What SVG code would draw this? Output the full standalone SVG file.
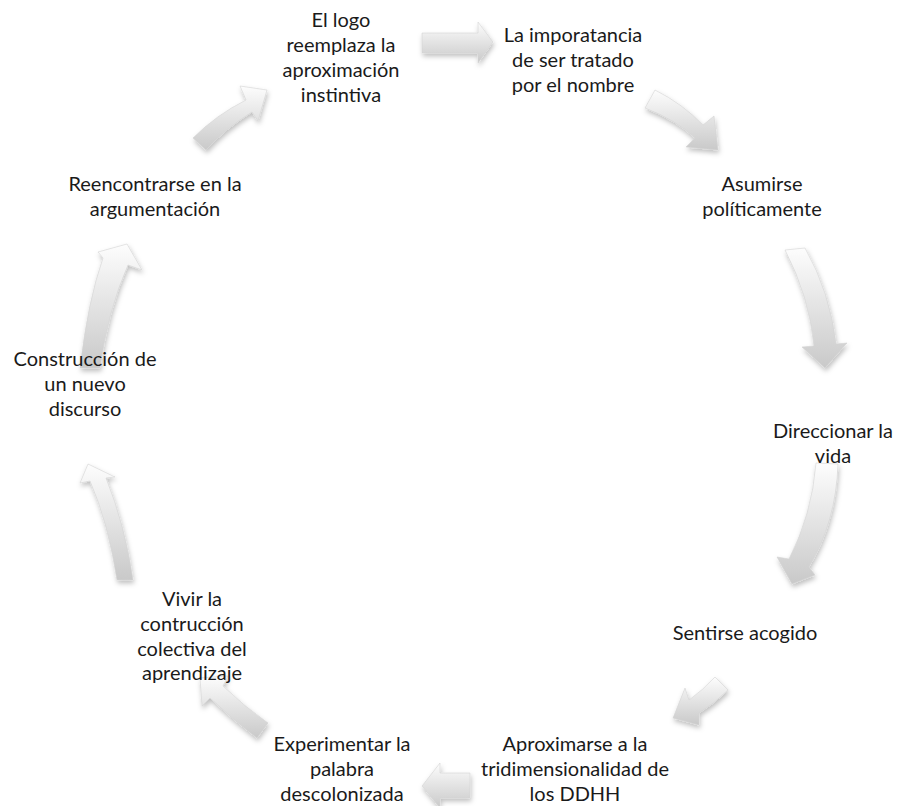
<svg xmlns="http://www.w3.org/2000/svg" width="899" height="806" viewBox="0 0 899 806">
<defs>
<linearGradient id="g" x1="0" y1="0" x2="0" y2="1">
<stop offset="0" stop-color="#fdfdfd"/>
<stop offset="1" stop-color="#c9c9c9"/>
</linearGradient>
<filter id="sh" x="-30%" y="-30%" width="160%" height="160%">
<feDropShadow dx="1" dy="3" stdDeviation="2.5" flood-color="#000" flood-opacity="0.25"/>
</filter>
</defs>
<style>
.a{fill:url(#g);stroke:#d4d4d4;stroke-width:0.6;filter:url(#sh)}
text{font-family:Lato,"Liberation Sans",sans-serif;font-size:20px;fill:#1a1a1a;text-anchor:middle}
</style>
<rect width="899" height="806" fill="#fff"/>
<g id="connectors">
<path class="a" d="M422,33 L478,33 L478,22 L493,42 L478,63 L478,53 L422,53 Z"/>
<path class="a" d="M655,90 Q683,104 703,125 L714,116 L718,150 L686,147 L695,138 Q676,120 645,108 Z"/>
<path class="a" d="M785,250 L805,248 Q830,292 836,344 L847,343 L825,368 L802,347 L814,346 Q809,296 785,250 Z"/>
<path class="a" d="M816,463 L838,464 Q836,522 809,567 L815,575 L792,584 L777,557 L789,559 Q812,514 816,463 Z"/>
<path class="a" d="M715,677 L728,690 Q714,704 699,713 L699,725 L673,718 L685,688 L689,700 Q703,690 715,677 Z"/>
<path class="a" d="M470,773 L440,773 L440,763 L422,786 L440,808 L440,798 L470,798 Z"/>
<path class="a" d="M268,723 Q245,707 223,686 L228,676 L200,678 L202,706 L210,698 Q233,720 257,738 Z"/>
<path class="a" d="M133,580 L117,580 Q108,522 90,481 L80,483 L88,464 L115,477 L106,478 Q125,525 133,580 Z"/>
<path class="a" d="M80,368 Q88,300 103,258 L98,252 L127,244 L142,270 L128,265 Q108,310 100,368 Z"/>
<path class="a" d="M193,138 Q216,115 246,100 L240,86 L267,90 L258,121 L252,112 Q226,128 206,150 Z"/>
</g>
<g id="n1"><text x="341" y="27">El logo</text><text x="341" y="52">reemplaza la</text><text x="341" y="77">aproximación</text><text x="341" y="102">instintiva</text></g>
<g id="n2"><text x="573" y="42">La imporatancia</text><text x="573" y="67">de ser tratado</text><text x="573" y="92">por el nombre</text></g>
<g id="n3"><text x="762" y="191">Asumirse</text><text x="762" y="216">políticamente</text></g>
<g id="n4"><text x="833" y="438">Direccionar la</text><text x="833" y="463">vida</text></g>
<g id="n5"><text x="745" y="640">Sentirse acogido</text></g>
<g id="n6"><text x="575" y="751">Aproximarse a la</text><text x="575" y="776">tridimensionalidad de</text><text x="575" y="801">los DDHH</text></g>
<g id="n7"><text x="342" y="751">Experimentar la</text><text x="342" y="776">palabra</text><text x="342" y="801">descolonizada</text></g>
<g id="n8"><text x="192" y="606">Vivir la</text><text x="192" y="631">contrucción</text><text x="192" y="656">colectiva del</text><text x="192" y="680">aprendizaje</text></g>
<g id="n9"><text x="85" y="366">Construcción de</text><text x="85" y="391">un nuevo</text><text x="85" y="416">discurso</text></g>
<g id="n10"><text x="155" y="191">Reencontrarse en la</text><text x="155" y="216">argumentación</text></g>
</svg>
